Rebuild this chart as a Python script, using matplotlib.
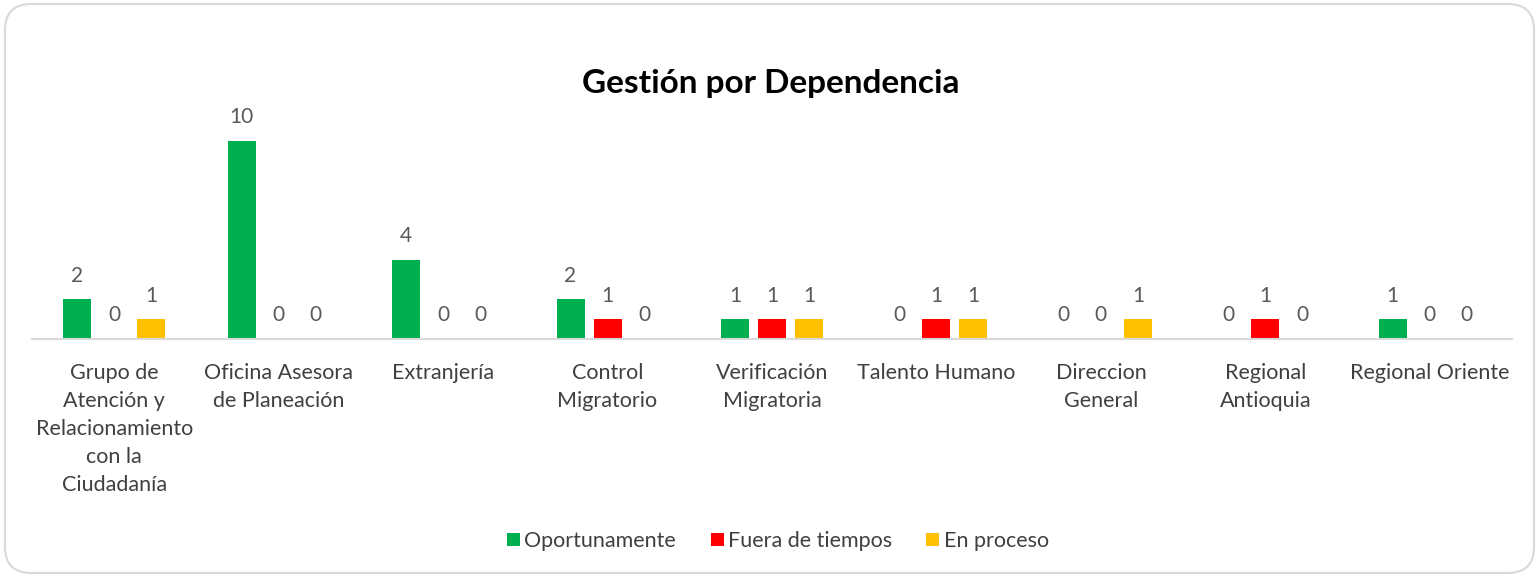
import matplotlib.pyplot as plt
from matplotlib.patches import FancyBboxPatch

categories = [
    "Grupo de\nAtención y\nRelacionamiento\ncon la\nCiudadanía",
    "Oficina Asesora\nde Planeación",
    "Extranjería",
    "Control\nMigratorio",
    "Verificación\nMigratoria",
    "Talento Humano",
    "Direccion\nGeneral",
    "Regional\nAntioquia",
    "Regional Oriente",
]
oportunamente = [2, 10, 4, 2, 1, 0, 0, 0, 1]
fuera_de_tiempos = [0, 0, 0, 1, 1, 1, 0, 1, 0]
en_proceso = [1, 0, 0, 0, 1, 1, 1, 0, 0]

series = [
    ("Oportunamente", oportunamente, "#00b050"),
    ("Fuera de tiempos", fuera_de_tiempos, "#ff0000"),
    ("En proceso", en_proceso, "#ffc000"),
]

plt.rcParams["font.family"] = ["Lato", "DejaVu Sans"]

fig = plt.figure(figsize=(15.39, 5.77), dpi=100)
fig.patch.set_facecolor("white")

# rounded chart-area border
border = FancyBboxPatch(
    (5 / 1539, 4 / 577), 1529 / 1539, 569 / 577,
    boxstyle="round,pad=0,rounding_size=0.017",
    transform=fig.transFigure, facecolor="none", edgecolor="#d9d9d9",
    linewidth=1.5, mutation_aspect=1539 / 577, zorder=-1,
)
fig.patches.append(border)

ax = fig.add_axes([32 / 1539, 238 / 577, 1480 / 1539, 239 / 577])
ax.set_facecolor("none")

x = list(range(len(categories)))
width = 0.17
step = 0.225

for i, (name, values, color) in enumerate(series):
    xs = [xi + (i - 1) * step for xi in x]
    ax.bar(xs, values, width=width, color=color, label=name)
    for xb, v in zip(xs, values):
        ax.annotate(str(v), (xb, v), xytext=(0, 17), textcoords="offset points",
                    ha="center", va="center", fontsize=15, color="#595959")

ax.set_xlim(-0.5, len(categories) - 0.5)
ax.set_ylim(0, 12.07)
ax.set_yticks([])
ax.set_xticks(x)
ax.set_xticklabels(categories, fontsize=15.5, color="#404040", linespacing=1.5,
                   va="top")
ax.tick_params(axis="x", length=0, pad=17)
for side in ["top", "left", "right"]:
    ax.spines[side].set_visible(False)
ax.spines["bottom"].set_color("#d9d9d9")
ax.spines["bottom"].set_linewidth(1.5)

fig.text(0.501, 1 - 84 / 577, "Gestión por Dependencia", ha="center", va="center",
         fontsize=24, fontweight="bold", color="black")

fig.legend(loc="center", bbox_to_anchor=(0.5055, 1 - 541 / 577), ncol=3,
           frameon=False, fontsize=15.5, handlelength=0.6, handleheight=0.6,
           handletextpad=0.2, columnspacing=1.6, labelcolor="#404040")

fig.savefig("out.png", dpi=100, facecolor="white")
